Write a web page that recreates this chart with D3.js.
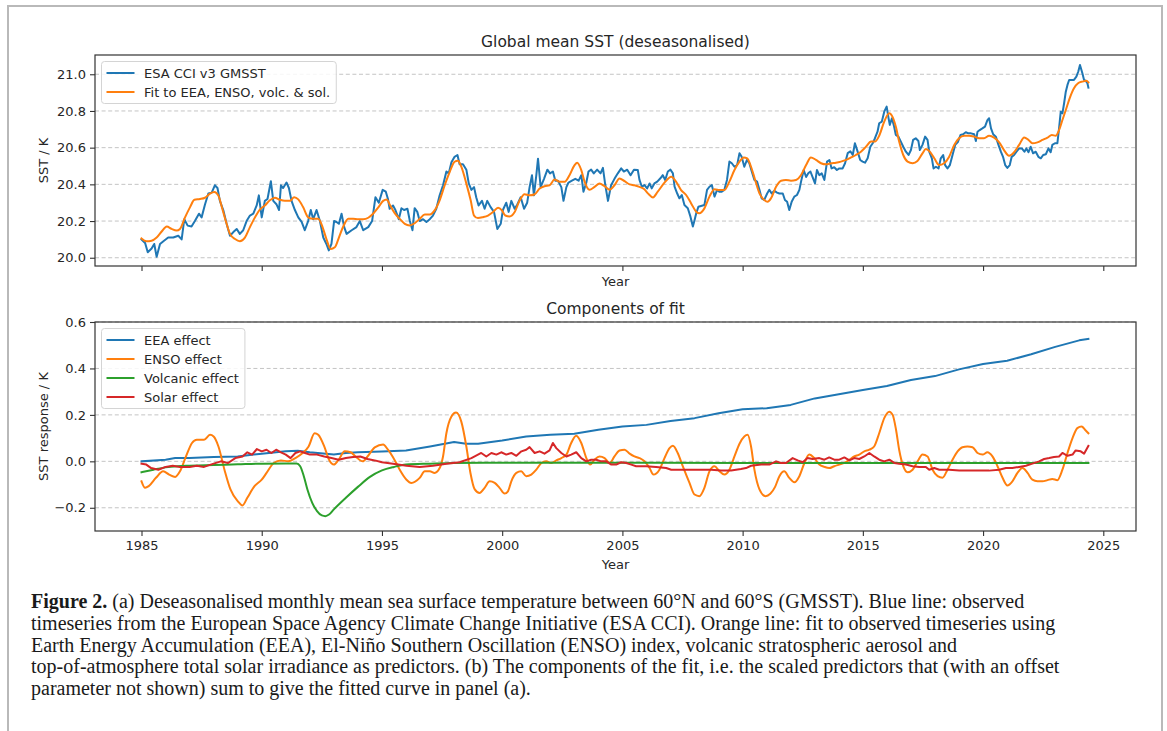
<!DOCTYPE html>
<html>
<head>
<meta charset="utf-8">
<script src="https://cdn.jsdelivr.net/npm/d3@7"></script>
<style>
  html, body { margin: 0; padding: 0; background: #fff; }
  svg { display: block; }
  .mpl text { font-family: "DejaVu Sans", sans-serif; fill: #262626; }
  .caption text { font-family: "Liberation Serif", "Times New Roman", serif; fill: #1a1a1a; }
</style>
</head>
<body>
<svg id="fig" width="1167" height="731"></svg>
<script>
// ---- Panel (a): deseasonalised global mean SST (K) ----
const sstYears = [
  1985.00,1985.15,1985.26,1985.42,1985.53,1985.63,1985.77,1985.91,1986.11,1986.32,1986.53,1986.67,1986.78,1986.92,
  1987.08,1987.22,1987.39,1987.50,1987.64,1987.78,1987.92,1988.05,1988.16,1988.26,1988.40,1988.54,1988.68,1988.82,
  1988.96,1989.09,1989.23,1989.37,1989.51,1989.65,1989.79,1989.88,1990.00,1990.13,1990.24,1990.38,1990.48,1990.62,
  1990.72,1990.80,1990.89,1991.03,1991.13,1991.24,1991.38,1991.52,1991.66,1991.79,1991.93,1992.04,1992.14,1992.28,
  1992.42,1992.56,1992.69,1992.79,1992.90,1993.01,1993.11,1993.21,1993.32,1993.43,1993.53,1993.74,1993.94,1994.08,
  1994.22,1994.43,1994.59,1994.73,1994.87,1995.03,1995.16,1995.25,1995.32,1995.46,1995.56,1995.70,1995.81,1995.92,
  1996.06,1996.16,1996.27,1996.36,1996.47,1996.57,1996.71,1996.85,1996.99,1997.12,1997.26,1997.40,1997.54,1997.68,
  1997.78,1997.89,1998.02,1998.14,1998.23,1998.37,1998.51,1998.61,1998.72,1998.83,1998.92,1999.02,1999.16,1999.27,
  1999.38,1999.52,1999.66,1999.80,1999.94,2000.03,2000.17,2000.27,2000.38,2000.52,2000.63,2000.77,2000.91,2001.04,
  2001.14,2001.24,2001.32,2001.42,2001.49,2001.60,2001.74,2001.88,2001.99,2002.11,2002.21,2002.32,2002.46,2002.55,
  2002.67,2002.76,2002.90,2003.04,2003.18,2003.29,2003.38,2003.50,2003.59,2003.70,2003.81,2003.95,2004.09,2004.19,
  2004.29,2004.40,2004.53,2004.67,2004.81,2004.95,2005.06,2005.20,2005.34,2005.48,2005.64,2005.71,2005.81,2005.92,
  2006.03,2006.13,2006.22,2006.33,2006.45,2006.58,2006.68,2006.78,2006.89,2007.00,2007.10,2007.17,2007.28,2007.37,
  2007.47,2007.58,2007.72,2007.83,2007.93,2008.00,2008.07,2008.16,2008.27,2008.41,2008.52,2008.62,2008.72,2008.83,
  2008.94,2009.03,2009.13,2009.24,2009.35,2009.45,2009.55,2009.66,2009.77,2009.87,2009.96,2010.07,2010.18,2010.28,
  2010.38,2010.49,2010.60,2010.70,2010.79,2010.90,2011.02,2011.11,2011.21,2011.32,2011.43,2011.53,2011.67,2011.76,
  2011.85,2011.94,2012.04,2012.15,2012.26,2012.36,2012.43,2012.54,2012.64,2012.73,2012.82,2012.91,2013.01,2013.09,
  2013.19,2013.29,2013.40,2013.51,2013.61,2013.70,2013.81,2013.92,2014.02,2014.16,2014.26,2014.37,2014.48,2014.58,
  2014.67,2014.78,2014.89,2014.99,2015.09,2015.20,2015.31,2015.41,2015.50,2015.61,2015.68,2015.79,2015.89,2015.99,
  2016.07,2016.12,2016.21,2016.30,2016.37,2016.48,2016.58,2016.68,2016.79,2016.90,2017.00,2017.09,2017.20,2017.31,
  2017.37,2017.48,2017.59,2017.69,2017.76,2017.87,2017.94,2018.04,2018.15,2018.24,2018.34,2018.42,2018.52,2018.62,
  2018.73,2018.84,2018.95,2019.06,2019.17,2019.28,2019.39,2019.50,2019.63,2019.70,2019.77,2019.86,2019.97,2020.08,
  2020.18,2020.25,2020.33,2020.42,2020.53,2020.64,2020.74,2020.83,2020.92,2021.01,2021.11,2021.19,2021.29,2021.39,
  2021.50,2021.61,2021.72,2021.80,2021.89,2021.98,2022.08,2022.19,2022.30,2022.40,2022.50,2022.61,2022.72,2022.81,
  2022.88,2022.99,2023.09,2023.16,2023.23,2023.30,2023.37,2023.44,2023.51,2023.58,2023.69,2023.78,2023.88,2023.96,
  2024.03,2024.13,2024.20,2024.27,2024.34,2024.38
];
const sstValues = [
  20.100,20.080,20.030,20.050,20.075,20.005,20.075,20.090,20.110,20.110,20.120,20.100,20.210,20.175,
  20.170,20.200,20.240,20.220,20.290,20.350,20.355,20.395,20.380,20.310,20.260,20.185,20.120,20.140,
  20.157,20.130,20.150,20.200,20.230,20.240,20.285,20.340,20.220,20.310,20.320,20.417,20.310,20.290,
  20.260,20.395,20.380,20.410,20.380,20.310,20.260,20.220,20.195,20.150,20.200,20.260,20.210,20.260,
  20.200,20.110,20.075,20.040,20.075,20.200,20.195,20.185,20.240,20.167,20.130,20.150,20.167,20.200,
  20.150,20.167,20.200,20.330,20.300,20.370,20.360,20.320,20.267,20.285,20.260,20.210,20.270,20.260,
  20.267,20.200,20.150,20.270,20.250,20.200,20.210,20.195,20.210,20.230,20.267,20.340,20.395,20.470,
  20.460,20.520,20.550,20.560,20.510,20.510,20.480,20.405,20.370,20.385,20.330,20.285,20.310,20.267,
  20.310,20.276,20.250,20.157,20.185,20.260,20.300,20.250,20.310,20.267,20.290,20.330,20.267,20.300,
  20.385,20.450,20.340,20.450,20.540,20.385,20.430,20.480,20.460,20.470,20.420,20.420,20.385,20.310,
  20.385,20.410,20.420,20.430,20.420,20.450,20.360,20.410,20.470,20.480,20.460,20.480,20.460,20.490,
  20.395,20.310,20.395,20.430,20.460,20.487,20.470,20.480,20.450,20.480,20.478,20.424,20.387,20.396,
  20.378,20.405,20.378,20.405,20.415,20.433,20.450,20.424,20.470,20.480,20.460,20.387,20.350,20.324,
  20.342,20.287,20.270,20.224,20.170,20.205,20.242,20.278,20.282,20.287,20.370,20.387,20.396,20.333,
  20.370,20.360,20.360,20.370,20.424,20.524,20.515,20.496,20.505,20.570,20.550,20.496,20.533,20.515,
  20.470,20.424,20.415,20.370,20.324,20.315,20.350,20.370,20.350,20.365,20.355,20.350,20.350,20.315,
  20.305,20.260,20.305,20.333,20.342,20.370,20.415,20.478,20.440,20.460,20.470,20.440,20.405,20.478,
  20.450,20.460,20.424,20.524,20.533,20.487,20.493,20.478,20.487,20.487,20.515,20.570,20.580,20.560,
  20.624,20.580,20.533,20.524,20.518,20.542,20.605,20.624,20.650,20.687,20.733,20.742,20.796,20.824,
  20.760,20.724,20.760,20.715,20.670,20.660,20.633,20.605,20.578,20.560,20.587,20.642,20.651,20.636,
  20.587,20.615,20.660,20.642,20.578,20.542,20.487,20.496,20.487,20.542,20.560,20.505,20.487,20.505,
  20.560,20.615,20.630,20.669,20.673,20.684,20.678,20.678,20.673,20.636,20.687,20.696,20.705,20.715,
  20.750,20.760,20.705,20.673,20.660,20.615,20.578,20.550,20.505,20.490,20.505,20.550,20.560,20.578,
  20.596,20.596,20.578,20.596,20.575,20.605,20.569,20.578,20.550,20.542,20.560,20.564,20.596,20.575,
  20.615,20.624,20.624,20.705,20.796,20.787,20.842,20.905,20.942,20.969,20.969,20.969,20.987,21.015,
  21.051,21.005,20.969,20.964,20.951,20.927
];

// Fitted curve (EEA + ENSO + volcanic + solar + offset)
const fitYears = [
  1985.00,1985.21,1985.42,1985.63,1985.84,1986.05,1986.25,1986.46,1986.60,1986.81,1987.02,1987.20,1987.43,1987.64,
  1987.85,1988.03,1988.19,1988.36,1988.54,1988.68,1988.89,1989.09,1989.30,1989.51,1989.72,1989.92,1990.13,1990.34,
  1990.55,1990.75,1990.96,1991.17,1991.35,1991.52,1991.72,1991.93,1992.14,1992.35,1992.53,1992.69,1992.87,1993.04,
  1993.21,1993.39,1993.60,1993.80,1994.01,1994.22,1994.43,1994.63,1994.84,1995.05,1995.20,1995.32,1995.53,1995.74,
  1995.95,1996.15,1996.36,1996.57,1996.78,1996.99,1997.19,1997.40,1997.61,1997.82,1998.02,1998.16,1998.30,1998.51,
  1998.69,1998.83,1998.99,1999.20,1999.41,1999.62,1999.83,1999.99,2000.13,2000.31,2000.52,2000.73,2000.93,2001.14,
  2001.35,2001.56,2001.76,2001.97,2002.18,2002.39,2002.60,2002.80,2003.01,2003.12,2003.29,2003.43,2003.63,2003.84,
  2004.05,2004.26,2004.47,2004.67,2004.88,2005.09,2005.30,2005.50,2005.71,2005.90,2006.06,2006.27,2006.47,2006.75,
  2007.03,2007.23,2007.44,2007.65,2007.86,2008.07,2008.20,2008.41,2008.62,2008.83,2009.03,2009.24,2009.45,2009.66,
  2009.87,2010.05,2010.19,2010.35,2010.52,2010.70,2010.90,2011.04,2011.18,2011.39,2011.60,2011.80,2012.01,2012.22,
  2012.43,2012.64,2012.84,2013.05,2013.26,2013.47,2013.68,2013.88,2014.09,2014.30,2014.51,2014.71,2014.92,2015.13,
  2015.34,2015.50,2015.68,2015.89,2016.10,2016.23,2016.37,2016.51,2016.68,2016.86,2017.07,2017.27,2017.48,2017.62,
  2017.76,2017.97,2018.17,2018.38,2018.59,2018.80,2019.00,2019.21,2019.42,2019.63,2019.84,2020.04,2020.25,2020.46,
  2020.67,2020.87,2021.08,2021.29,2021.50,2021.71,2021.89,2022.05,2022.26,2022.47,2022.68,2022.86,2023.02,2023.16,
  2023.30,2023.44,2023.60,2023.78,2023.95,2024.13,2024.30,2024.38
];
const fitValues = [
  20.105,20.090,20.093,20.110,20.143,20.170,20.157,20.148,20.157,20.220,20.276,20.316,20.320,20.327,
  20.350,20.358,20.340,20.267,20.185,20.130,20.102,20.090,20.110,20.167,20.220,20.262,20.285,20.313,
  20.327,20.316,20.310,20.310,20.330,20.318,20.276,20.220,20.212,20.212,20.167,20.102,20.048,20.057,
  20.110,20.170,20.212,20.212,20.210,20.210,20.218,20.240,20.273,20.310,20.318,20.290,20.243,20.212,
  20.185,20.176,20.188,20.212,20.236,20.236,20.258,20.313,20.395,20.468,20.523,20.529,20.496,20.404,
  20.313,20.230,20.216,20.221,20.230,20.249,20.273,20.258,20.230,20.225,20.249,20.313,20.346,20.340,
  20.346,20.377,20.390,20.395,20.426,20.414,20.414,20.450,20.505,20.518,20.478,20.414,20.371,20.386,
  20.404,20.390,20.371,20.395,20.432,20.417,20.400,20.395,20.386,20.375,20.351,20.329,20.360,20.409,
  20.442,20.415,20.369,20.342,20.296,20.251,20.242,20.269,20.333,20.373,20.369,20.369,20.415,20.478,
  20.524,20.547,20.542,20.496,20.424,20.351,20.315,20.305,20.324,20.387,20.420,20.424,20.420,20.424,
  20.451,20.505,20.547,20.533,20.515,20.509,20.515,20.518,20.524,20.533,20.547,20.560,20.578,20.605,
  20.633,20.633,20.665,20.742,20.787,20.769,20.715,20.633,20.560,20.524,20.515,20.527,20.569,20.593,
  20.582,20.542,20.505,20.515,20.551,20.615,20.651,20.665,20.665,20.660,20.651,20.651,20.665,20.655,
  20.629,20.587,20.556,20.575,20.615,20.655,20.642,20.624,20.629,20.642,20.655,20.669,20.665,20.696,
  20.751,20.805,20.869,20.924,20.951,20.960,20.964,20.956
];

// ---- Panel (b): components of the fit (SST response, K) ----
const eeaYears  = [1985,1986,1986.4,1987,1988,1989,1990,1991,1991.5,1992,1993,1993.5,1994,1995,1996,1997,1998,
  1998.5,1999,2000,2001,2002,2003,2004,2005,2006,2007,2008,2009,2010,2011,2012,2013,2014,2015,2016,2017,2018,
  2019,2020,2021,2022,2023,2024,2024.38];
const eeaValues = [0.000,0.007,0.014,0.014,0.019,0.021,0.033,0.043,0.046,0.039,0.029,0.036,0.039,0.042,0.047,
  0.064,0.083,0.076,0.076,0.090,0.107,0.114,0.119,0.136,0.150,0.157,0.174,0.186,0.207,0.224,0.229,0.243,0.271,
  0.289,0.307,0.324,0.350,0.367,0.396,0.419,0.433,0.461,0.493,0.521,0.527];

const ensoYears = [1985.00,1985.15,1985.30,1985.60,1985.90,1986.15,1986.40,1986.60,1986.85,1987.10,1987.30,
  1987.60,1987.85,1988.00,1988.20,1988.45,1988.70,1989.00,1989.20,1989.40,1989.70,1990.00,1990.20,1990.50,
  1990.80,1991.10,1991.40,1991.70,1991.95,1992.20,1992.35,1992.60,1992.80,1993.00,1993.20,1993.45,1993.70,
  1993.90,1994.20,1994.40,1994.70,1995.05,1995.25,1995.46,1995.74,1996.02,1996.22,1996.57,1996.78,1996.99,
  1997.19,1997.40,1997.54,1997.68,1997.89,1998.08,1998.30,1998.51,1998.68,1998.86,1999.06,1999.27,1999.48,
  1999.69,1999.89,2000.10,2000.24,2000.38,2000.59,2000.79,2001.00,2001.21,2001.42,2001.63,2001.83,2002.04,
  2002.25,2002.46,2002.67,2002.87,2003.08,2003.29,2003.50,2003.66,2003.84,2004.05,2004.26,2004.47,2004.67,
  2004.88,2005.09,2005.30,2005.50,2005.71,2005.92,2006.13,2006.29,2006.54,2006.75,2006.96,2007.10,2007.30,
  2007.51,2007.79,2008.00,2008.20,2008.41,2008.62,2008.83,2009.04,2009.24,2009.45,2009.66,2009.87,2010.07,
  2010.21,2010.35,2010.49,2010.70,2010.95,2011.15,2011.35,2011.53,2011.73,2011.94,2012.15,2012.36,2012.57,
  2012.77,2012.98,2013.19,2013.40,2013.60,2013.81,2014.02,2014.23,2014.44,2014.64,2014.85,2015.06,2015.27,
  2015.47,2015.68,2015.89,2016.10,2016.24,2016.38,2016.51,2016.68,2016.86,2017.07,2017.28,2017.48,2017.69,
  2017.90,2018.11,2018.31,2018.52,2018.73,2018.94,2019.14,2019.35,2019.56,2019.77,2019.98,2020.18,2020.39,
  2020.60,2020.81,2021.01,2021.22,2021.43,2021.64,2021.85,2022.05,2022.26,2022.47,2022.68,2022.88,2023.09,
  2023.30,2023.51,2023.72,2023.92,2024.10,2024.24,2024.38];
const ensoValues = [-0.086,-0.114,-0.107,-0.071,-0.043,-0.057,-0.067,-0.043,0.021,0.079,0.093,0.093,0.114,0.107,
  0.064,-0.036,-0.121,-0.171,-0.190,-0.157,-0.107,-0.079,-0.050,-0.007,0.004,0.000,0.014,0.036,0.064,0.121,
  0.114,0.064,0.007,-0.014,0.007,0.043,0.039,0.021,0.000,0.021,0.060,0.072,0.050,0.018,-0.036,-0.079,-0.093,
  -0.071,-0.043,-0.043,-0.050,-0.029,0.021,0.121,0.193,0.210,0.171,0.064,-0.050,-0.121,-0.136,-0.114,-0.086,
  -0.093,-0.114,-0.139,-0.129,-0.086,-0.050,-0.043,-0.064,-0.057,-0.036,-0.007,0.000,-0.007,0.004,0.014,0.029,
  0.079,0.110,0.079,0.014,-0.014,0.007,0.021,0.014,-0.007,0.021,0.047,0.050,0.033,0.021,0.014,0.000,-0.029,
  -0.057,-0.036,0.014,0.057,0.067,0.036,-0.021,-0.093,-0.143,-0.150,-0.114,-0.043,-0.021,-0.043,-0.057,-0.036,
  0.021,0.076,0.107,0.114,0.064,-0.036,-0.121,-0.150,-0.140,-0.110,-0.064,-0.043,-0.071,-0.090,-0.064,-0.007,
  0.029,0.014,-0.014,-0.024,-0.029,-0.021,-0.014,-0.007,0.007,0.021,0.029,0.043,0.050,0.064,0.121,0.186,0.214,
  0.200,0.136,0.050,-0.021,-0.047,-0.036,0.000,0.029,0.021,-0.036,-0.064,-0.071,-0.036,0.007,0.043,0.061,0.064,
  0.061,0.036,0.029,0.039,0.021,-0.021,-0.071,-0.104,-0.086,-0.050,-0.029,-0.050,-0.079,-0.086,-0.086,-0.081,
  -0.076,-0.081,-0.036,0.036,0.100,0.143,0.150,0.136,0.121];

const volcYears  = [1985,1985.5,1986,1986.5,1987,1988,1989,1990,1991,1991.45,1991.6,1991.75,1991.9,1992.1,1992.3,
  1992.5,1992.65,1992.8,1993,1993.5,1994,1994.5,1995,1995.5,1996,1997,1998,2000,2005,2010,2015,2020,2024.38];
const volcValues = [-0.047,-0.036,-0.026,-0.021,-0.019,-0.016,-0.013,-0.010,-0.009,-0.009,-0.021,-0.064,-0.121,
  -0.179,-0.214,-0.233,-0.236,-0.229,-0.207,-0.157,-0.110,-0.067,-0.039,-0.024,-0.014,-0.010,-0.007,-0.006,
  -0.006,-0.007,-0.007,-0.007,-0.007];

const solarYears = [1985.0,1985.2,1985.4,1985.7,1986.0,1986.3,1986.6,1987.0,1987.3,1987.6,1988.0,1988.3,1988.6,
  1988.9,1989.2,1989.4,1989.6,1989.8,1990.0,1990.2,1990.4,1990.6,1990.8,1991.0,1991.2,1991.4,1991.6,1991.8,
  1992.0,1992.3,1992.6,1992.9,1993.2,1993.5,1993.8,1994.1,1994.4,1994.7,1995.0,1995.46,1996.02,1996.57,1997.12,
  1997.68,1998.23,1998.72,1999.13,1999.34,1999.55,1999.76,1999.96,2000.17,2000.38,2000.59,2000.80,2001.00,
  2001.14,2001.35,2001.56,2001.76,2001.97,2002.11,2002.25,2002.46,2002.67,2002.87,2003.08,2003.29,2003.50,
  2003.70,2003.91,2004.12,2004.33,2004.54,2004.74,2004.95,2005.16,2005.37,2005.57,2005.99,2006.40,2006.82,
  2007.03,2007.44,2007.86,2008.27,2008.69,2009.10,2009.52,2009.93,2010.14,2010.35,2010.77,2011.11,2011.39,
  2011.60,2011.80,2012.08,2012.29,2012.50,2012.70,2012.91,2013.19,2013.40,2013.60,2013.81,2014.02,2014.23,
  2014.44,2014.64,2014.85,2015.06,2015.27,2015.47,2015.68,2015.89,2016.10,2016.31,2016.51,2016.79,2017.07,
  2017.34,2017.62,2017.76,2017.97,2018.18,2018.59,2019.01,2019.42,2019.84,2020.25,2020.67,2020.95,2021.22,
  2021.50,2021.78,2022.05,2022.33,2022.54,2022.75,2022.95,2023.16,2023.30,2023.51,2023.72,2023.85,2024.06,
  2024.20,2024.38];
const solarValues = [-0.010,-0.014,-0.029,-0.036,-0.024,-0.019,-0.024,-0.024,-0.019,-0.024,-0.010,0.000,-0.007,
  0.014,0.021,0.039,0.029,0.053,0.043,0.050,0.036,0.050,0.039,0.029,0.014,0.036,0.043,0.036,0.029,0.029,0.021,
  0.014,0.007,0.014,0.019,0.021,0.010,0.004,-0.004,-0.010,-0.019,-0.024,-0.019,-0.010,-0.004,0.014,0.036,0.021,
  0.036,0.029,0.039,0.029,0.036,0.024,0.043,0.050,0.061,0.036,0.043,0.033,0.047,0.079,0.057,0.036,0.021,0.029,
  0.039,0.014,0.000,0.007,0.007,0.000,0.000,-0.014,-0.014,-0.004,-0.007,-0.014,-0.021,-0.021,-0.024,-0.029,
  -0.036,-0.036,-0.036,-0.036,-0.036,-0.039,-0.039,-0.033,-0.029,-0.019,-0.014,-0.014,0.000,-0.007,-0.007,0.014,
  0.004,-0.004,0.014,0.010,0.014,0.007,0.017,0.007,0.007,0.017,0.004,0.014,0.010,0.021,0.036,0.021,0.007,0.000,
  0.007,-0.007,-0.010,-0.014,-0.021,-0.024,-0.024,-0.036,-0.029,-0.036,-0.036,-0.039,-0.039,-0.040,-0.040,
  -0.036,-0.029,-0.029,-0.024,-0.019,-0.010,0.000,0.010,0.014,0.019,0.021,0.036,0.024,0.029,0.047,0.043,0.033,
  0.067];

// ---- Axis ticks and labels ----
const yearTicks = [1985, 1990, 1995, 2000, 2005, 2010, 2015, 2020, 2025];
const sstTicks = [20.0, 20.2, 20.4, 20.6, 20.8, 21.0];
const compTicks = [-0.2, 0.0, 0.2, 0.4, 0.6];
const sstSeriesNames = ["ESA CCI v3 GMSST", "Fit to EEA, ENSO, volc. & sol."];
const compSeriesNames = ["EEA effect", "ENSO effect", "Volcanic effect", "Solar effect"];
const colors = ["#1f77b4", "#ff7f0e", "#2ca02c", "#d62728"];

const svg = d3.select("#fig");
svg.append("rect").attr("width", 1167).attr("height", 731).attr("fill", "#fff");

// page frame
svg.append("path")
  .attr("d", "M8,731V6H1162V731")
  .attr("fill", "none").attr("stroke", "#b9b9b9").attr("stroke-width", 2);

const fig = svg.append("g").attr("class", "mpl");
const fmt = d3.format(".1f");
const zip = (xs, ys) => xs.map((x, i) => [x, ys[i]]);

function panel(cfg) {
  const g = fig.append("g");
  const x = d3.scaleLinear().domain([1983.066, 2026.36]).range([cfg.left, cfg.right]);
  const y = d3.scaleLinear().domain(cfg.ydom).range([cfg.bottom, cfg.top]);

  // horizontal dashed grid
  g.append("g").selectAll("line").data(cfg.yticks).join("line")
    .attr("x1", cfg.left).attr("x2", cfg.right)
    .attr("y1", d => y(d)).attr("y2", d => y(d))
    .attr("stroke", "#c4c4c4").attr("stroke-width", 1).attr("stroke-dasharray", "4,2.6");

  // series
  const clipId = "clip" + cfg.id;
  g.append("clipPath").attr("id", clipId).append("rect")
    .attr("x", cfg.left).attr("y", cfg.top)
    .attr("width", cfg.right - cfg.left).attr("height", cfg.bottom - cfg.top);
  const lines = g.append("g").attr("clip-path", `url(#${clipId})`);
  cfg.series.forEach(s => {
    lines.append("path")
      .datum(s.data)
      .attr("d", d3.line().x(d => x(d[0])).y(d => y(d[1])).curve(s.curve || d3.curveLinear))
      .attr("fill", "none").attr("stroke", s.color).attr("stroke-width", 2)
      .attr("stroke-linejoin", "round").attr("stroke-linecap", "square");
  });

  // axes via d3 axis generators
  const xAxis = d3.axisBottom(x).tickValues(yearTicks).tickSize(5).tickPadding(4)
    .tickFormat(cfg.xlabels ? d3.format("d") : () => "");
  const gx = g.append("g").attr("transform", `translate(0,${cfg.bottom})`).call(xAxis);
  const yAxis = d3.axisLeft(y).tickValues(cfg.yticks).tickSize(5).tickPadding(4).tickFormat(fmt);
  const gy = g.append("g").attr("transform", `translate(${cfg.left},0)`).call(yAxis);
  [gx, gy].forEach(a => {
    a.select(".domain").remove();
    a.selectAll(".tick line").attr("stroke", "#333").attr("stroke-width", 1.1);
    a.selectAll(".tick text").attr("fill", "#262626").style("font-size", "13px")
      .style("font-family", '"DejaVu Sans", sans-serif');
  });
  gx.selectAll(".tick text").attr("dy", "0.76em");

  // frame
  g.append("rect").attr("x", cfg.left).attr("y", cfg.top)
    .attr("width", cfg.right - cfg.left).attr("height", cfg.bottom - cfg.top)
    .attr("fill", "none").attr("stroke", "#333").attr("stroke-width", 1.2);

  // titles and labels
  g.append("text").attr("x", (cfg.left + cfg.right) / 2).attr("y", cfg.top - 8)
    .attr("text-anchor", "middle").style("font-size", "15.5px").text(cfg.title);
  g.append("text").attr("x", (cfg.left + cfg.right) / 2).attr("y", cfg.xlabelY)
    .attr("text-anchor", "middle").style("font-size", "13px").text("Year");
  g.append("text")
    .attr("transform", `translate(48,${(cfg.top + cfg.bottom) / 2}) rotate(-90)`)
    .attr("text-anchor", "middle").style("font-size", "13px").text(cfg.ylabel);

  // legend
  const lg = g.append("g");
  const lx = cfg.left + 6.5, ly = cfg.top + 6.5, rowH = 19;
  const box = lg.append("rect").attr("x", lx).attr("y", ly).attr("rx", 3)
    .attr("fill", "#fff").attr("fill-opacity", 0.85).attr("stroke", "#d4d4d4").attr("stroke-width", 1);
  let maxW = 0;
  cfg.series.forEach((s, i) => {
    const cy = ly + 11.5 + i * rowH;
    lg.append("line").attr("x1", lx + 5).attr("x2", lx + 33).attr("y1", cy).attr("y2", cy)
      .attr("stroke", s.color).attr("stroke-width", 2);
    const t = lg.append("text").attr("x", lx + 42.5).attr("y", cy).attr("dy", "0.36em")
      .style("font-size", "13px").text(s.name);
    maxW = Math.max(maxW, t.node().getComputedTextLength());
  });
  box.attr("width", 42.5 + maxW + 6).attr("height", 23 + (cfg.series.length - 1) * rowH);
}

panel({
  id: "a", left: 95, right: 1136, top: 55, bottom: 266,
  ydom: [19.955, 21.105], yticks: sstTicks, xlabels: false, xlabelY: 286,
  title: "Global mean SST (deseasonalised)", ylabel: "SST / K",
  series: [
    { name: sstSeriesNames[0], color: colors[0], data: zip(sstYears, sstValues) },
    { name: sstSeriesNames[1], color: colors[1], data: zip(fitYears, fitValues), curve: d3.curveMonotoneX }
  ]
});

panel({
  id: "b", left: 95, right: 1136, top: 322, bottom: 531,
  ydom: [-0.3, 0.6], yticks: compTicks, xlabels: true, xlabelY: 569,
  title: "Components of fit", ylabel: "SST response / K",
  series: [
    { name: compSeriesNames[0], color: colors[0], data: zip(eeaYears, eeaValues) },
    { name: compSeriesNames[1], color: colors[1], data: zip(ensoYears, ensoValues), curve: d3.curveMonotoneX },
    { name: compSeriesNames[2], color: colors[2], data: zip(volcYears, volcValues), curve: d3.curveMonotoneX },
    { name: compSeriesNames[3], color: colors[3], data: zip(solarYears, solarValues) }
  ]
});

// ---- Caption ----
const captionLines = [
  [["Figure 2.", true], [" (a) Deseasonalised monthly mean sea surface temperature between 60°N and 60°S (GMSST). Blue line: observed", false]],
  [["timeseries from the European Space Agency Climate Change Initiative (ESA CCI). Orange line: fit to observed timeseries using", false]],
  [["Earth Energy Accumulation (EEA), El-Niño Southern Oscillation (ENSO) index, volcanic stratospheric aerosol and", false]],
  [["top-of-atmosphere total solar irradiance as predictors. (b) The components of the fit, i.e. the scaled predictors that (with an offset", false]],
  [["parameter not shown) sum to give the fitted curve in panel (a).", false]]
];
const cap = svg.append("g").attr("class", "caption");
captionLines.forEach((parts, i) => {
  const t = cap.append("text").attr("x", 31).attr("y", 608 + i * 21.8).style("font-size", "20px");
  parts.forEach(([str, bold]) => t.append("tspan").attr("font-weight", bold ? "bold" : null).text(str));
});
</script>
</body>
</html>
